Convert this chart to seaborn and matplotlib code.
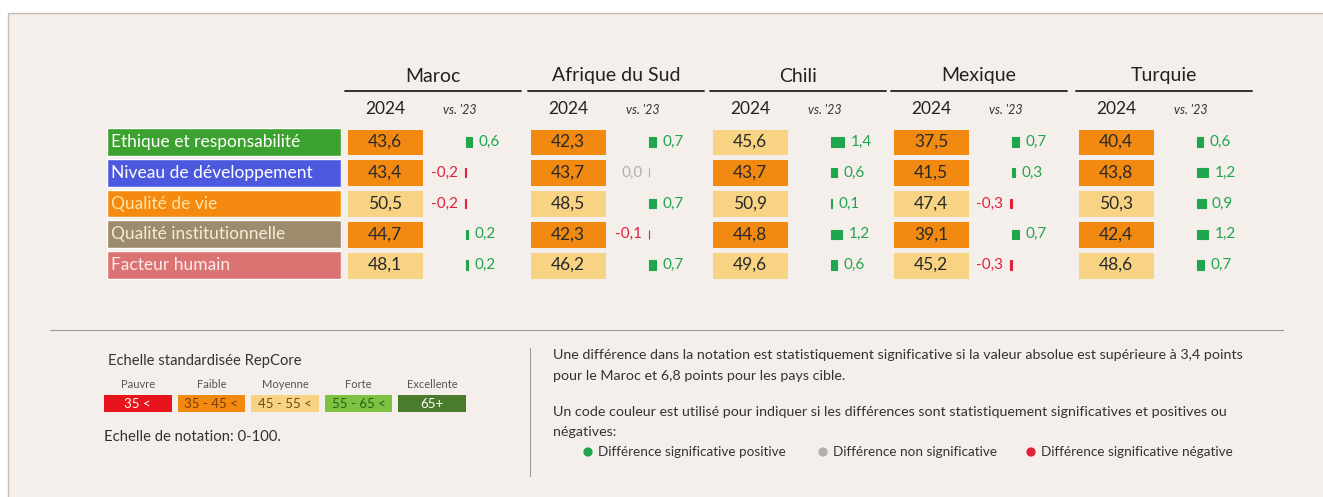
import numpy as np
import pandas as pd
import seaborn as sns
import matplotlib.pyplot as plt
from matplotlib.colors import ListedColormap, BoundaryNorm
from matplotlib.patches import Rectangle

sns.set_style('white')
plt.rcParams['font.family'] = ['Lato', 'DejaVu Sans']

# --- data ---
countries = ['Maroc', 'Afrique du Sud', 'Chili', 'Mexique', 'Turquie']
indicators = ['Ethique et responsabilité', 'Niveau de développement',
              'Qualité de vie', 'Qualité institutionnelle', 'Facteur humain']

maroc_2024 = [43.6, 43.4, 50.5, 44.7, 48.1]
afrique_2024 = [42.3, 43.7, 48.5, 42.3, 46.2]
chili_2024 = [45.6, 43.7, 50.9, 44.8, 49.6]
mexique_2024 = [37.5, 41.5, 47.4, 39.1, 45.2]
turquie_2024 = [40.4, 43.8, 50.3, 42.4, 48.6]

maroc_diff = [0.6, -0.2, -0.2, 0.2, 0.2]
afrique_diff = [0.7, 0.0, 0.7, -0.1, 0.7]
chili_diff = [1.4, 0.6, 0.1, 1.2, 0.6]
mexique_diff = [0.7, 0.3, -0.3, 0.7, -0.3]
turquie_diff = [0.6, 1.2, 0.9, 1.2, 0.7]

scores = [maroc_2024, afrique_2024, chili_2024, mexique_2024, turquie_2024]
diffs = [maroc_diff, afrique_diff, chili_diff, mexique_diff, turquie_diff]

# RepCore scale
scale_names = ['Pauvre', 'Faible', 'Moyenne', 'Forte', 'Excellente']
scale_labels = ['35 <', '35 - 45 <', '45 - 55 <', '55 - 65 <', '65+']
scale_bounds = [0, 35, 45, 55, 65, 100]
scale_colors = ['#e8141c', '#f28a12', '#f8d384', '#7dc242', '#4b7c2e']
scale_text_colors = ['white', '#7a3a05', '#6a4a10', '#2e5e12', 'white']

label_colors = ['#3ba12f', '#4c58de', '#f48a10', '#9c8b6d', '#dc7373']
label_text_colors = ['white', 'white', '#fde3a4', '#f4ecd8', '#fdeaea']

GREEN, RED, GREY = '#1fa54b', '#e1213a', '#b0b0b0'
BG = '#f5efec'
TXT = '#333333'

cmap = ListedColormap(scale_colors)
norm = BoundaryNorm(scale_bounds, cmap.N)


def fmt(v):
    return f'{v:.1f}'.replace('.', ',')


W, H = 1323, 497
fig = plt.figure(figsize=(W / 100, H / 100), dpi=100, facecolor='white')


def px_axes(x0, y0, x1, y1):
    return fig.add_axes([x0 / W, 1 - y1 / H, (x1 - x0) / W, (y1 - y0) / H])


# background / annotation layer in pixel units
bg = fig.add_axes([0, 0, 1, 1])
bg.set_xlim(0, W)
bg.set_ylim(H, 0)
bg.axis('off')
bg.add_patch(Rectangle((8, 13), W, H, facecolor=BG, edgecolor='#c5bdb2', lw=1))

ROW_TOP, ROW_BOT = 126.5, 280.5
group_left = [346, 529, 711, 892, 1077]

# indicator labels
ax = px_axes(107, ROW_TOP, 341, ROW_BOT)
sns.barplot(x=[1] * len(indicators), y=indicators, hue=indicators,
            palette=label_colors, saturation=1, width=0.9, legend=False, ax=ax)
ax.set_xlim(0, 1)
ax.set_ylim(4.5, -0.5)
ax.axis('off')
for i, (name, c) in enumerate(zip(indicators, label_text_colors)):
    ax.text(0.018, i, name, va='center', ha='left', fontsize=12.5, color=c)

for gl, country, vals, dvals in zip(group_left, countries, scores, diffs):
    # headers
    bg.text(gl + 87, 76, country, ha='center', va='center', fontsize=14, color='#222')
    bg.plot([gl - 1, gl + 175], [91, 91], color='#222', lw=1.3)
    bg.text(gl + 39, 109, '2024', ha='center', va='center', fontsize=12.5, color='#222')
    bg.text(gl + 114, 110, "vs. '23", ha='center', va='center', fontsize=9,
            style='italic', color=TXT)

    # 2024 score cells
    ax = px_axes(gl - 1, ROW_TOP, gl + 79, ROW_BOT)
    data = pd.DataFrame({'2024': vals}, index=indicators)
    annot = np.array([[fmt(v)] for v in vals])
    sns.heatmap(data, ax=ax, cmap=cmap, norm=norm, annot=annot, fmt='', cbar=False,
                linewidths=2.2, linecolor=BG, xticklabels=False, yticklabels=False,
                annot_kws=dict(fontsize=12.5, color='#2a2a2a'))
    ax.axis('off')

    # difference vs 2023
    ax = px_axes(gl + 80, ROW_TOP, gl + 178, ROW_BOT)
    cols = [GREEN if d > 0 else RED if d < 0 else GREY for d in dvals]
    sns.barplot(x=dvals, y=indicators, hue=indicators, palette=cols, saturation=1,
                width=0.3, legend=False, orient='h', ax=ax)
    for p, c in zip(ax.patches, cols):
        p.set_edgecolor(c)
        p.set_linewidth(0.8)
    ax.set_xlim(-4.5, 6.4)
    ax.set_ylim(4.5, -0.5)
    ax.axis('off')
    for i, (d, c) in enumerate(zip(dvals, cols)):
        if d > 0:
            ax.text(d + 0.7, i, fmt(d), ha='left', va='center', fontsize=11, color=c)
        else:
            ax.text(d - 0.7, i, fmt(d), ha='right', va='center', fontsize=11, color=c)

# separators
bg.plot([50, 1283], [330, 330], color='#9a9a9a', lw=0.8)
bg.plot([530, 530], [348, 476], color='#9a9a9a', lw=0.8)

# scale legend
bg.text(108, 361, 'Echelle standardisée RepCore', va='center', fontsize=10.6, color=TXT)
ax = px_axes(101, 392, 469, 415)
mids = [(a + b) / 2 for a, b in zip(scale_bounds[:-1], scale_bounds[1:])]
sns.heatmap(pd.DataFrame([mids], columns=scale_names), ax=ax, cmap=cmap, norm=norm,
            annot=np.array([scale_labels]), fmt='', cbar=False, linewidths=4.3,
            linecolor=BG, yticklabels=False, annot_kws=dict(fontsize=9.5))
for t, c in zip(ax.texts, scale_text_colors):
    t.set_color(c)
ax.xaxis.tick_top()
ax.set_xticklabels(scale_names, rotation=0)
ax.tick_params(length=0, labelsize=8, labelcolor='#555', pad=1.5)
bg.text(104, 437, 'Echelle de notation: 0-100.', va='center', fontsize=10.7, color=TXT)

# explanation text
bg.text(553, 355, 'Une différence dans la notation est statistiquement significative si la '
        'valeur absolue est supérieure à 3,4 points', va='center', fontsize=10.3, color=TXT)
bg.text(553, 376, 'pour le Maroc et 6,8 points pour les pays cible.', va='center',
        fontsize=10.3, color=TXT)
bg.text(553, 412, 'Un code couleur est utilisé pour indiquer si les différences sont '
        'statistiquement significatives et positives ou', va='center', fontsize=10.3, color=TXT)
bg.text(553, 432, 'négatives:', va='center', fontsize=10.3, color=TXT)

legend_x = [588, 823, 1031]
legend_txt = ['Différence significative positive', 'Différence non significative',
              'Différence significative négative']
bg.scatter(legend_x, [452] * 3, s=32, c=[GREEN, GREY, RED], zorder=3)
for x, t in zip(legend_x, legend_txt):
    bg.text(x + 10, 452, t, va='center', fontsize=9.7, color=TXT)

fig.savefig('out.png', dpi=100, facecolor='white')
